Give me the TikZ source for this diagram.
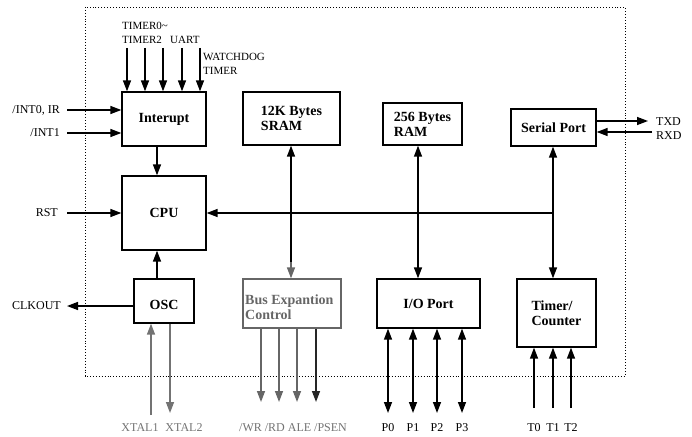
\documentclass[tikz,border=0pt]{standalone}
\usepackage{fontspec}
\setmainfont{Liberation Serif}
\usetikzlibrary{arrows.meta}
\begin{document}
\begin{tikzpicture}[x=1pt,y=-1pt,
  >={Triangle[length=11pt,width=8pt]},
  blk/.style={draw, line width=1.3pt, inner sep=0pt, align=left,
    font=\fontsize{14}{15}\selectfont\bfseries},
  btxt/.style={inner sep=0pt, align=left, font=\fontsize{14}{15}\selectfont\bfseries},
  lbl/.style={inner sep=0pt, font=\fontsize{12}{14}\selectfont},
  toplbl/.style={inner sep=0pt, align=left, font=\fontsize{11}{14}\selectfont},
  ln/.style={line width=1.4pt},
  faint/.style={black!55},
  frame/.style={dotted, line width=0.9pt}]
\useasboundingbox (0,0) rectangle (692,436);
\draw[frame] (85,7) rectangle (625,376);

% blocks
\node[blk, minimum width=84pt, minimum height=54pt] (int) at (164,119) {Interupt};
\node[blk, minimum width=84pt, minimum height=74pt] (cpu) at (164,213) {CPU};
\node[blk, minimum width=60pt, minimum height=44pt] (osc) at (164,301) {};
\node[btxt] (osct) at (164,305) {OSC};
\node[blk, minimum width=97pt, minimum height=53pt] (sram) at (291.5,118.5) {12K Bytes\\SRAM};
\node[blk, minimum width=79pt, minimum height=42pt] (ram) at (422.5,124) {256 Bytes\\RAM};
\node[blk, minimum width=85pt, minimum height=37pt] (ser) at (553.5,127.5) {Serial Port};
\node[blk, draw=black!60, minimum width=98pt, minimum height=49pt] (bus) at (292,303.5) {};
\node[btxt, text=black!60, anchor=west] (bust) at (245,307.5) {Bus Expantion\\Control};
\node[blk, minimum width=103pt, minimum height=49pt] (io) at (428.5,303.5) {I/O Port};
\node[blk, minimum width=79pt, minimum height=68pt] (tim) at (556.5,313) {Timer/\\Counter};

% top labels
\node[toplbl, anchor=west] (ltim) at (122,33) {TIMER0\textasciitilde\\TIMER2};
\node[toplbl, anchor=west] (luart) at (170,40) {UART};
\node[toplbl, anchor=west] (lwd) at (203,64) {WATCHDOG\\TIMER};
\foreach \x/\n in {127/1,145/2,163/3,182/4,200/5}{
  \coordinate (t\n) at (\x,48);
  \draw[ln,->] (t\n) -- (t\n |- int.north);
}

% left inputs
\node[lbl, anchor=east] (lint0) at (60,110) {/INT0, IR};
\node[lbl, anchor=east] (lint1) at (60,133) {/INT1};
\node[lbl, anchor=east] (lrst) at (58,213) {RST};
\node[lbl, anchor=east] (lclk) at (61,306) {CLKOUT};
\coordinate (i0) at (67,110);
\coordinate (i1) at (67,133);
\coordinate (rs) at (67,213);
\coordinate (ck) at (67,306);
\draw[ln,->] (i0) -- (i0 -| int.west);
\draw[ln,->] (i1) -- (i1 -| int.west);
\draw[ln,->] (rs) -- (rs -| cpu.west);
\draw[ln,->] (ck -| osc.west) -- (ck);

% int -> cpu, osc -> cpu
\coordinate (v) at (157,0);
\draw[ln,->] (v |- int.south) -- (v |- cpu.north);
\draw[ln,->] (v |- osc.north) -- (v |- cpu.south);

% xtal
\coordinate (x1) at (151,415);
\coordinate (x2) at (170,413);
\draw[ln,faint,->] (x1) -- (x1 |- osc.south);
\draw[ln,faint,->] (x2 |- osc.south) -- (x2);
\node[lbl, faint] (lx1) at (140,428) {XTAL1};
\node[lbl, faint] (lx2) at (184,428) {XTAL2};

% internal bus
\coordinate (j) at (553,213);
\draw[ln,<->] (j |- ser.south) -- (j |- tim.north);
\draw[ln,->] (j) -- (j -| cpu.east);
\coordinate (sm) at (291,262);
\draw[ln,<-] (sm |- sram.south) -- (sm);
\draw[ln,black!60,->] (sm) -- (sm |- bus.north);
\coordinate (r) at (418,0);
\draw[ln,<->] (r |- ram.south) -- (r |- io.north);

% serial
\coordinate (tx) at (648,121);
\coordinate (rx) at (652,132);
\draw[ln,->] (tx -| ser.east) -- (tx);
\draw[ln,->] (rx) -- (rx -| ser.east);
\node[lbl, anchor=west] (ltx) at (656,122) {TXD};
\node[lbl, anchor=west] (lrx) at (656,136) {RXD};

% bus expansion lines
\foreach \x/\n/\c in {261/1/black!60,279/2/black!60,297/3/black!60,316/4/black!85}{
  \coordinate (b\n) at (\x,402);
  \draw[ln,\c,->] (b\n |- bus.south) -- (b\n);
}
\node[lbl, faint] (lbus) at (293,428) {/WR /RD ALE /PSEN};

% io ports
\foreach \x/\n in {388/0,413/1,437/2,462/3}{
  \coordinate (p\n) at (\x,413);
  \draw[ln,<->] (p\n |- io.south) -- (p\n);
  \node[lbl] (lp\n) at (\x,428) {P\n};
}

% timer inputs
\foreach \x/\n in {534/0,553/1,571/2}{
  \coordinate (c\n) at (\x,408);
  \draw[ln,->] (c\n) -- (c\n |- tim.south);
  \node[lbl] (lt\n) at (\x,428) {T\n};
}
\end{tikzpicture}
\end{document}
